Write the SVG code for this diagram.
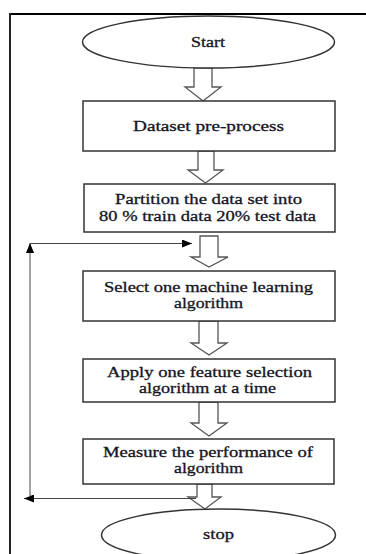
<svg xmlns="http://www.w3.org/2000/svg" width="366" height="554" viewBox="0 0 366 554">
<defs>
<style>
.box{fill:#fff;stroke:#333;stroke-width:1.5}
.term{fill:#fff;stroke:#333;stroke-width:1.5}
.blk{fill:#fff;stroke:#555;stroke-width:1.3;stroke-linejoin:miter}
.fb{fill:none;stroke:#444;stroke-width:1}
text{font-family:"Liberation Serif","Times New Roman",serif;font-size:15px;fill:#15151f;stroke:#15151f;stroke-width:0.3;text-anchor:middle}
</style>
<marker id="ah" viewBox="0 0 10 8" refX="10" refY="4" markerWidth="10" markerHeight="8" markerUnits="userSpaceOnUse" orient="auto">
<path d="M0,0 L10,4 L0,8 Z" fill="#000"/>
</marker>
</defs>
<rect width="366" height="554" fill="#fff"/>
<g id="frame">
<line x1="10" y1="14" x2="366" y2="14" stroke="#000" stroke-width="2"/>
<line x1="10" y1="13" x2="10" y2="554" stroke="#222" stroke-width="2"/>
</g>
<g id="connectors">
<polygon class="blk" points="194,68 212,68 212,87 221,87 203,101 185,87 194,87"/>
<polygon class="blk" points="198,151 214,151 214,170 223,170 205.5,183 188,170 198,170"/>
<polygon class="blk" points="200,236 218,236 218,257 228,257 209,267 191,257 200,257"/>
<polygon class="blk" points="199,321 218,321 218,343 227,343 209,355 191,343 199,343"/>
<polygon class="blk" points="199,402 218,402 218,423 227,423 209,436 191,423 199,423"/>
<polygon class="blk" points="197,484 212,484 212,497 221,497 205,509 188,497 197,497"/>
<polyline class="fb" points="196,498.5 24,498.5" marker-end="url(#ah)"/>
<polyline class="fb" points="30,496 30,243" marker-end="url(#ah)"/>
<polyline class="fb" points="30,243.5 192,243.5" marker-end="url(#ah)"/>
</g>
<g id="start">
<ellipse class="term" cx="208.5" cy="42" rx="126" ry="26"/>
<text x="208" y="47" textLength="34" lengthAdjust="spacingAndGlyphs">Start</text>
</g>
<g id="preprocess">
<rect class="box" x="83" y="101" width="252" height="50"/>
<text x="208.5" y="131" textLength="151" lengthAdjust="spacingAndGlyphs">Dataset  pre-process</text>
</g>
<g id="partition">
<rect class="box" x="84" y="184" width="251" height="48"/>
<text x="208.5" y="204" textLength="187" lengthAdjust="spacingAndGlyphs">Partition the data set into</text>
<text x="207.5" y="221" textLength="217" lengthAdjust="spacingAndGlyphs">80  % train data 20% test data</text>
</g>
<g id="select">
<rect class="box" x="83" y="271" width="252" height="50"/>
<text x="208.5" y="291.5" textLength="209" lengthAdjust="spacingAndGlyphs">Select one machine learning</text>
<text x="208.5" y="307.5" textLength="69" lengthAdjust="spacingAndGlyphs">algorithm</text>
</g>
<g id="feature">
<rect class="box" x="83" y="359" width="252" height="43"/>
<text x="209.5" y="377" textLength="205" lengthAdjust="spacingAndGlyphs">Apply one feature selection</text>
<text x="207.5" y="392.5" textLength="137" lengthAdjust="spacingAndGlyphs">algorithm  at a time</text>
</g>
<g id="measure">
<rect class="box" x="83" y="439" width="251" height="45"/>
<text x="208" y="457" textLength="210" lengthAdjust="spacingAndGlyphs">Measure the performance  of</text>
<text x="208.5" y="473" textLength="69" lengthAdjust="spacingAndGlyphs">algorithm</text>
</g>
<g id="stop">
<ellipse class="term" cx="218.5" cy="535" rx="117" ry="26"/>
<text x="218.5" y="538.5" textLength="31" lengthAdjust="spacingAndGlyphs">stop</text>
</g>
</svg>
